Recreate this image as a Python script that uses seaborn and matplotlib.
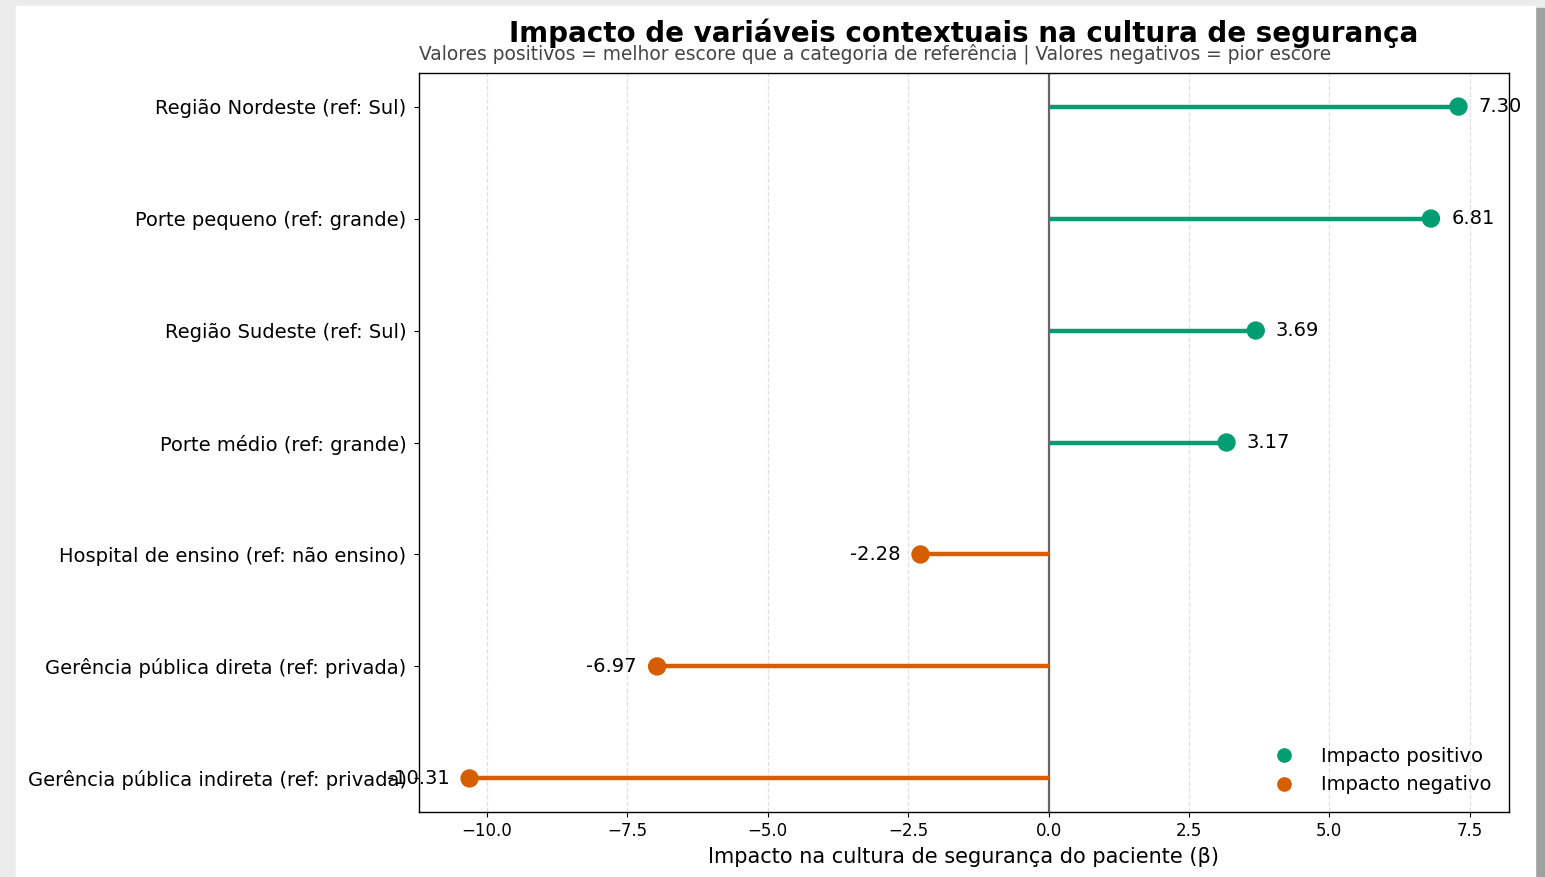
import matplotlib
matplotlib.use("Agg")
import matplotlib.pyplot as plt
import seaborn as sns
import pandas as pd
from matplotlib.patches import Rectangle

categories = [
    "Região Nordeste (ref: Sul)",
    "Porte pequeno (ref: grande)",
    "Região Sudeste (ref: Sul)",
    "Porte médio (ref: grande)",
    "Hospital de ensino (ref: não ensino)",
    "Gerência pública direta (ref: privada)",
    "Gerência pública indireta (ref: privada)",
]
values = [7.30, 6.81, 3.69, 3.17, -2.28, -6.97, -10.31]
xticks = [-10.0, -7.5, -5.0, -2.5, 0.0, 2.5, 5.0, 7.5]

title = "Impacto de variáveis contextuais na cultura de segurança"
subtitle = ("Valores positivos = melhor escore que a categoria de referência | "
            "Valores negativos = pior escore")
xlabel = "Impacto na cultura de segurança do paciente (β)"
pos_label = "Impacto positivo"
neg_label = "Impacto negativo"

GREEN = "#029E73"
ORANGE = "#D55E00"

n = len(categories)
df = pd.DataFrame({
    "cat": categories,
    "val": values,
    "pos": [n - 1 - i for i in range(n)],
})
df["tipo"] = [pos_label if v > 0 else neg_label for v in df["val"]]

plt.rcParams["font.family"] = ["DejaVu Sans"]

fig = plt.figure(figsize=(15.45, 8.77), dpi=100, facecolor="#ececec")
# card background
fig.patches.append(Rectangle((1535 / 1545, 0), 10 / 1545, 1 - 8 / 877,
                             transform=fig.transFigure, color="#a0a0a0", zorder=-3))
fig.patches.append(Rectangle((16 / 1545, 0), (1535 - 16) / 1545, 1 - 6 / 877,
                             transform=fig.transFigure, color="white", zorder=-2))

ax = fig.add_axes([419 / 1545, 1 - 812 / 877, (1509 - 419) / 1545, (812 - 73) / 877])
ax.set_facecolor("white")

colors = [GREEN if v > 0 else ORANGE for v in df["val"]]
ax.hlines(df["pos"], 0, df["val"], colors=colors, linewidth=3.2, zorder=2)
ax.axvline(0, color="#666666", linewidth=1.6, zorder=1)

sns.scatterplot(data=df, x="val", y="pos", hue="tipo",
                palette={pos_label: GREEN, neg_label: ORANGE},
                hue_order=[pos_label, neg_label],
                s=175, linewidth=0, zorder=3, ax=ax)

for v, p in zip(df["val"], df["pos"]):
    if v > 0:
        ax.text(v + 0.36, p, f"{v:.2f}", ha="left", va="center", fontsize=14)
    else:
        ax.text(v - 0.36, p, f"{v:.2f}", ha="right", va="center", fontsize=14)

ax.set_yticks(df["pos"])
ax.set_yticklabels(df["cat"], fontsize=14)
ax.tick_params(axis="y", pad=5.5)
ax.set_xticks(xticks)
ax.set_xticklabels([f"{t:.1f}".replace("-", "\u2212") for t in xticks], fontsize=12)
ax.set_xlim(min(values) - 0.9, max(values) + 0.9)
ax.set_ylim(-0.3, n - 1 + 0.3)
ax.set_ylabel("")
ax.set_xlabel(xlabel, fontsize=15, labelpad=5)
ax.grid(axis="x", linestyle="--", color="#cccccc", alpha=0.6, linewidth=0.9)
ax.set_axisbelow(True)
for sp in ax.spines.values():
    sp.set_color("black")
    sp.set_linewidth(1.0)

ax.set_title(title, fontsize=20, fontweight="bold", pad=22)
ax.text(0, 1.0176, subtitle, transform=ax.transAxes, ha="left", va="baseline",
        fontsize=13.4, color="#444444")

leg = ax.legend(loc="lower right", frameon=False, fontsize=14, title=None,
                markerscale=0.8, handletextpad=0.9)

fig.savefig("out.png", dpi=100, facecolor=fig.get_facecolor())
